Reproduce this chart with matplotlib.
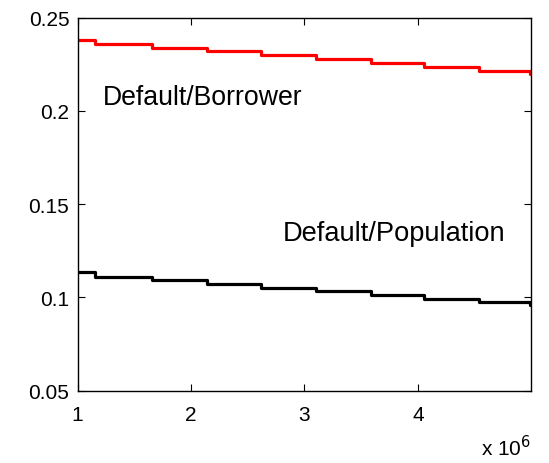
import numpy as np
import matplotlib
matplotlib.use("Agg")
import matplotlib.pyplot as plt
from matplotlib.ticker import FuncFormatter, MultipleLocator

plt.rcParams['font.family'] = ['Liberation Sans', 'DejaVu Sans']

# breakpoints where the default rates step down
step_x = [1.0e6, 1.153e6, 1.653e6, 2.139e6, 2.619e6, 3.102e6,
          3.590e6, 4.058e6, 4.535e6, 4.99e6, 4.995e6]
default_borrower = [0.2380, 0.2360, 0.2338, 0.2319, 0.2298, 0.2276,
                    0.2255, 0.2233, 0.2212, 0.2195, 0.2195]
default_population = [0.1134, 0.1112, 0.1092, 0.1073, 0.1053, 0.1033,
                      0.1014, 0.0994, 0.0974, 0.0960, 0.0960]

fig = plt.figure(figsize=(5.49, 4.64), dpi=100)
ax = fig.add_axes([0.1415, 0.1558, 0.8252, 0.8043])

ax.plot(step_x, default_borrower, drawstyle='steps-post', color='red', linewidth=2.3)
ax.plot(step_x, default_population, drawstyle='steps-post', color='black', linewidth=2.3)

ax.text(1.223e6, 0.2075, 'Default/Borrower', fontsize=19.2, va='center', ha='left')
ax.text(3.79e6, 0.1345, 'Default/Population', fontsize=19.6, va='center', ha='center')

ax.set_xlim(1.0e6, 4.995e6)
ax.set_ylim(0.05, 0.25)
ax.xaxis.set_major_locator(MultipleLocator(1e6))
ax.yaxis.set_major_locator(MultipleLocator(0.05))
ax.xaxis.set_major_formatter(FuncFormatter(lambda v, p: '%g' % (v / 1e6)))
ax.yaxis.set_major_formatter(FuncFormatter(lambda v, p: '%g' % round(v, 2)))
ax.tick_params(direction='in', length=5, width=0.8, top=True, right=True,
               labelsize=15, pad=6)
ax.tick_params(axis='x', pad=10)
for s in ax.spines.values():
    s.set_linewidth(1.0)

fig.text(0.9667, 0.008, r'x 10$^{6}$', fontsize=15, ha='right', va='bottom')

fig.savefig('out.png', dpi=100)
